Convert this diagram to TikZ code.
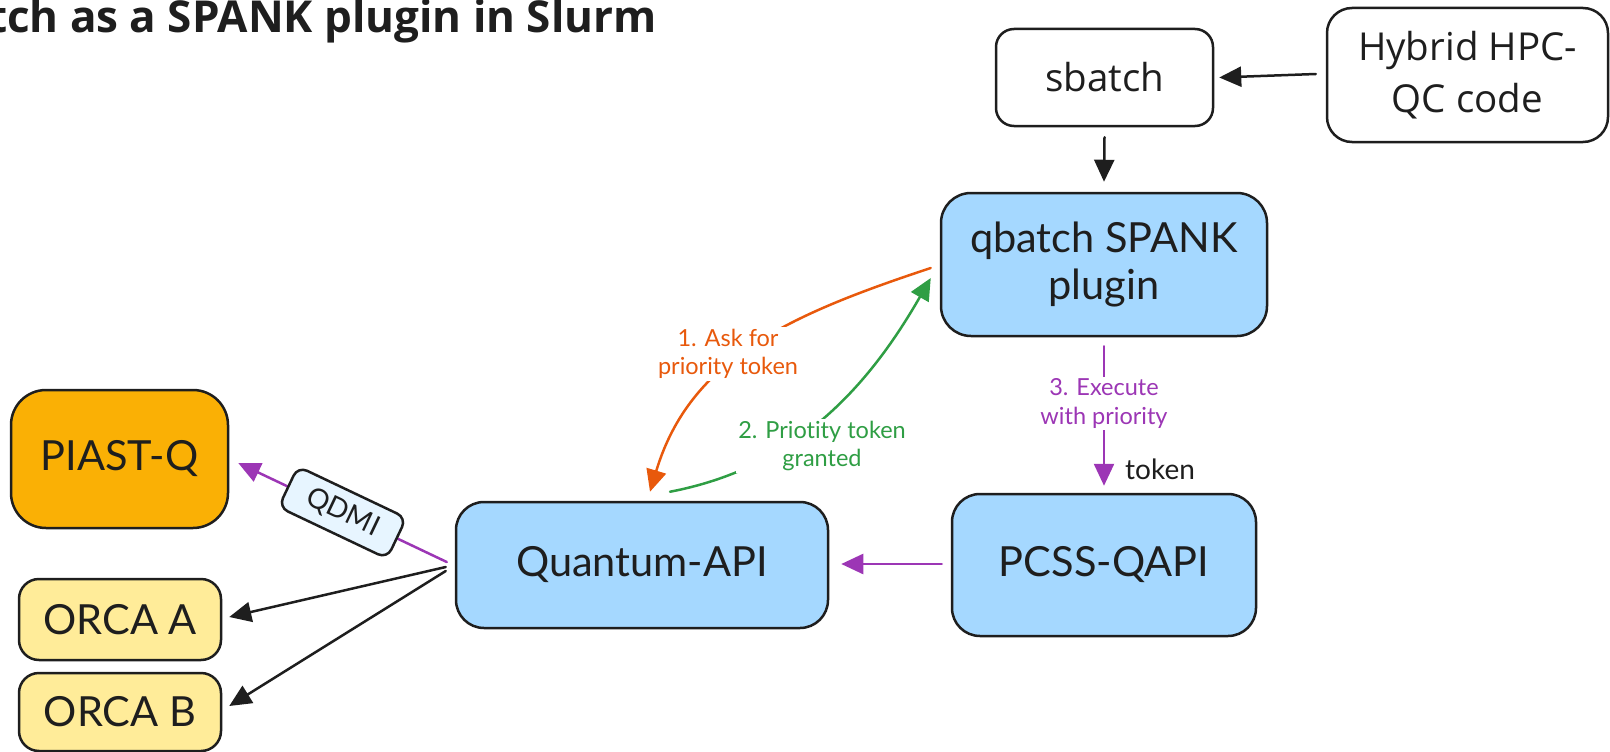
\documentclass[tikz,border=0pt]{standalone}
\usepackage{fontspec}
\setmainfont{Lato}[Ligatures=NoCommon]
\newfontfamily\osans{Open Sans}
\usetikzlibrary{arrows.meta,calc}
\definecolor{ink}{HTML}{1E1E1E}
\definecolor{bluefill}{HTML}{A5D8FF}
\definecolor{orangefill}{HTML}{FAB005}
\definecolor{yellowfill}{HTML}{FFEC99}
\definecolor{qdmifill}{HTML}{E7F5FF}
\definecolor{orangec}{HTML}{E8590C}
\definecolor{greenc}{HTML}{2F9E44}
\definecolor{purplec}{HTML}{9C36B5}
\begin{document}
\begin{tikzpicture}[x=1pt,y=-1pt,
  box/.style={draw=ink, line width=2.5pt, align=center, inner sep=0pt,
    font=\fontsize{41.5}{47}\selectfont, text=ink},
  bluebox/.style={box, fill=bluefill, rounded corners=28},
  plainbox/.style={box, fill=white, font=\osans\fontsize{38.5}{52}\selectfont},
  arr/.style={line width=2.5pt, line cap=round, -{Triangle[length=22pt,width=20pt]}},
  lbl/.style={fill=white, align=center, inner sep=2pt, font=\fontsize{23.5}{28.5}\selectfont},
  qdmi/.style={draw=ink, line width=2.5pt, fill=qdmifill, rounded corners=10,
    minimum width=120, minimum height=45, inner sep=0pt, text=ink,
    font=\fontsize{28}{28}\selectfont}
]
\useasboundingbox (0,0) rectangle (1610,752);

\node[anchor=base east, inner sep=0pt, text=ink,
  font=\osans\bfseries\fontsize{44}{44}\selectfont] (title) at (657,33) {tch as a SPANK plugin in Slurm};

\node[plainbox, rounded corners=18, minimum width=217, minimum height=97] (sb) at (1104.5,77.5) {sbatch};
\node[plainbox, rounded corners=25, minimum width=281, minimum height=134] (hy) at (1467.5,75) {Hybrid HPC-\\QC code};
\node[bluebox, rounded corners=30, minimum width=326, minimum height=143] (qb) at (1104,264.5) {qbatch SPANK\\plugin};
\node[bluebox, minimum width=304, minimum height=142] (pc) at (1104,565) {PCSS-QAPI};
\node[bluebox, minimum width=372, minimum height=126] (qapi) at (642,565) {Quantum-API};
\node[box, fill=orangefill, rounded corners=35, minimum width=217, minimum height=138] (piast) at (119.5,459) {PIAST-Q};
\node[box, fill=yellowfill, rounded corners=20, minimum width=202, minimum height=81] (oa) at (120,619.5) {ORCA A};
\node[box, fill=yellowfill, rounded corners=20, minimum width=202, minimum height=78] (ob) at (120,712) {ORCA B};

% connectors
\draw[arr, draw=ink] ($(hy.west)+(-10,-1)$) -- ($(sb.east)+(5,0)$);
\draw[arr, draw=ink] ($(sb.south)+(0,10)$) -- ($(qb.north)+(0,-10)$);
\draw[arr, draw=purplec] ($(qb.south)+(0,9)$) -- ($(pc.north)+(0,-7)$);
\draw[arr, draw=purplec] ($(pc.west)+(-9,-1)$) -- ($(qapi.east)+(12,-1)$);
\draw[arr, draw=orangec] ($(qb.west)+(-9,3.5)$)
  .. controls ($(qb.west)+(-151,50.5)$) and ($(qapi.north)+(48,-142)$) .. ($(qapi.north)+(8,-9)$);
\draw[arr, draw=greenc] ($(qapi.north)+(28,-9)$)
  .. controls ($(qapi.north)+(148,-32)$) and ($(qb.west)+(-76,130.5)$) .. ($(qb.west)+(-9,13.5)$);
\draw[arr, draw=purplec] ($(qapi.west)+(-8,-3)$) -- node[qdmi, sloped] (qd) {QDMI} ($(piast.east)+(9,4)$);
\draw[arr, draw=ink] ($(qapi.west)+(-9,2)$) -- ($(oa.east)+(7,-2.5)$);
\draw[arr, draw=ink] ($(qapi.west)+(-9,6)$) -- ($(ob.east)+(7,-6)$);

% labels
\node[lbl, text=orangec] (l1) at (728,354) {1. Ask for\\priority token};
\node[lbl, text=greenc] (l2) at (822,446) {2. Priotity token\\granted};
\node[lbl, text=purplec] (l3) at (1104,403.5) {3. Execute\\with priority};
\node[anchor=base west, inner sep=0pt, text=ink, font=\fontsize{28}{28}\selectfont] (tok) at (1125,479) {token};
\end{tikzpicture}
\end{document}
